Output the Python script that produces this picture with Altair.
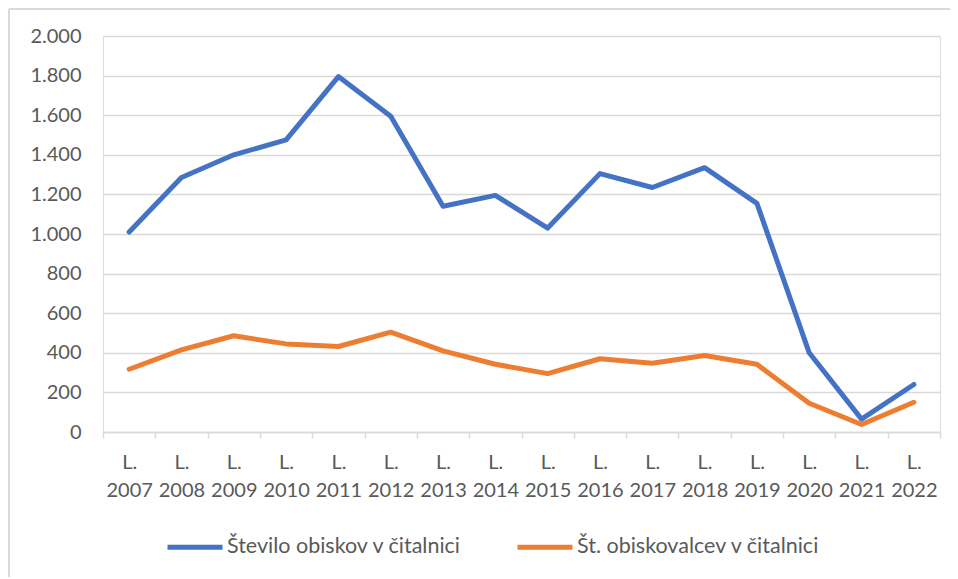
import altair as alt
import pandas as pd

years = ["2007", "2008", "2009", "2010", "2011", "2012", "2013", "2014",
         "2015", "2016", "2017", "2018", "2019", "2020", "2021", "2022"]
obiski = [1010, 1285, 1400, 1475, 1795, 1595, 1140, 1195,
          1030, 1305, 1235, 1335, 1155, 400, 65, 240]
obiskovalci = [317, 415, 486, 445, 432, 504, 410, 342,
               295, 370, 347, 386, 342, 145, 38, 150]
series_names = ["Število obiskov v čitalnici", "Št. obiskovalcev v čitalnici"]
series_colors = ["#4472C4", "#ED7D31"]

labels = ["L. " + y for y in years]
rows = []
for lab, a, b in zip(labels, obiski, obiskovalci):
    rows.append({"leto": lab, "serija": series_names[0], "vrednost": a})
    rows.append({"leto": lab, "serija": series_names[1], "vrednost": b})
df = pd.DataFrame(rows)

FONT = "Lato"
TXT = "#595959"

lines = alt.Chart(df).mark_line(strokeWidth=5, strokeCap="round", strokeJoin="round").encode(
    x=alt.X("leto:N", sort=labels, title=None,
            scale=alt.Scale(paddingInner=0, paddingOuter=0),
            axis=alt.Axis(labelAngle=0, labelExpr="split(datum.label, ' ')",
                          labelLineHeight=28, labelFontSize=20, labelColor=TXT, labelFont=FONT,
                          labelPadding=14, tickBand="extent", tickSize=6, tickColor="#d9d9d9",
                          tickWidth=1.5, domainColor="#d9d9d9", domainWidth=1.5, grid=False,
                          labelBaseline="top")),
    y=alt.Y("vrednost:Q", title=None,
            scale=alt.Scale(domain=[0, 2000], nice=False),
            axis=alt.Axis(values=list(range(0, 2001, 200)),
                          labelExpr="replace(format(datum.value, ','), ',', '.')",
                          labelFontSize=20, labelColor=TXT, labelFont=FONT, labelPadding=22,
                          ticks=False, domain=False, gridColor="#d9d9d9", gridWidth=1.5)),
    color=alt.Color("serija:N", sort=series_names,
                    scale=alt.Scale(domain=series_names, range=series_colors),
                    legend=alt.Legend(title=None, orient="none", legendX=62, legendY=481,
                                      direction="horizontal", symbolType="stroke",
                                      symbolSize=3025, symbolStrokeWidth=5,
                                      labelFontSize=21.5, labelColor=TXT, labelFont=FONT,
                                      labelOffset=2, columnPadding=45, labelLimit=400)),
    detail="serija:N",
)

frame_df = pd.DataFrame({"a": [0]})
top_rule = alt.Chart(frame_df).mark_rule(color="#d9d9d9", strokeWidth=2).encode(
    x=alt.value(-94), x2=alt.value(860), y=alt.value(-27))
left_rule = alt.Chart(frame_df).mark_rule(color="#d9d9d9", strokeWidth=2).encode(
    x=alt.value(-94), y=alt.value(-27), y2=alt.value(560))

chart = alt.layer(top_rule, left_rule, lines).properties(
    width=837, height=396,
    autosize=alt.AutoSizeParams(type="none"),
    padding={"left": 95, "top": 28, "right": 10, "bottom": 145},
).configure_view(stroke=None).configure(background="white")

chart.save("out.html", embed_options={"renderer": "svg", "actions": False})
